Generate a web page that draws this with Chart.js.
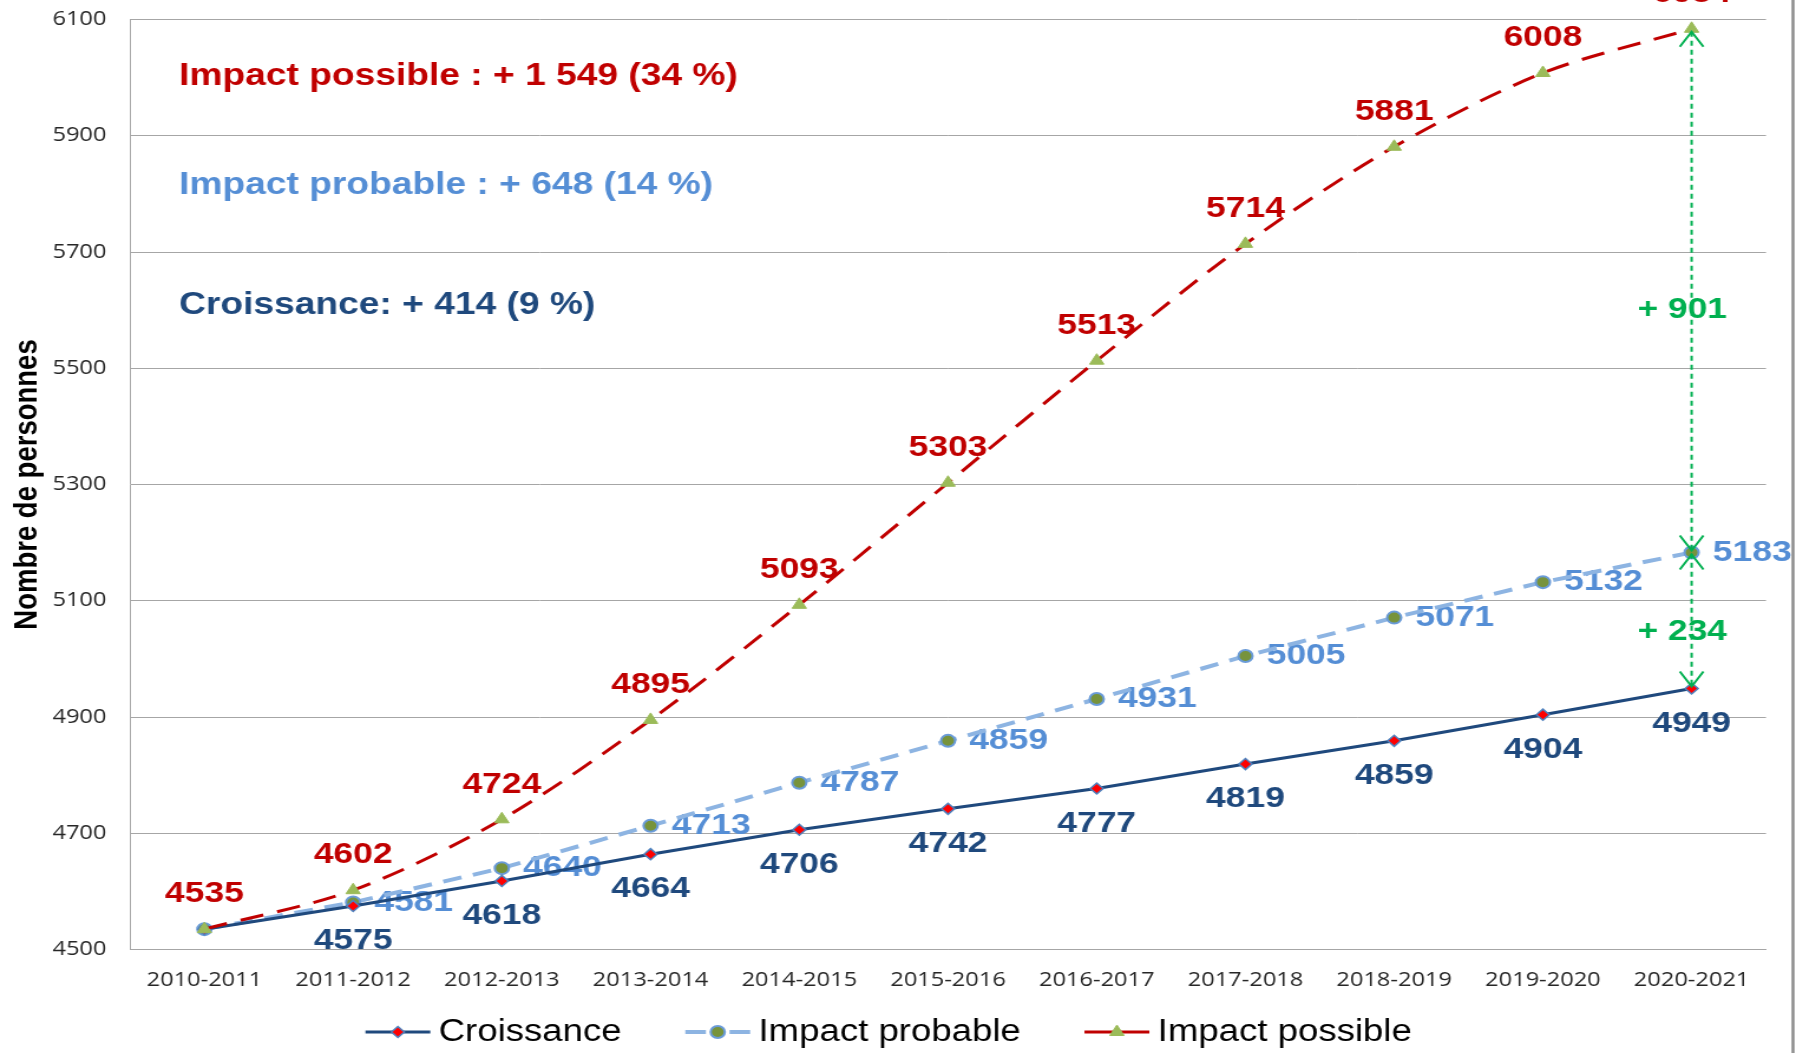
<!DOCTYPE html>
<html>
<head>
<meta charset="utf-8">
<script src="https://cdn.jsdelivr.net/npm/chart.js@4.4.1/dist/chart.umd.min.js"></script>
<style>
  html, body { margin: 0; padding: 0; background: #fff; overflow: hidden; }
  /* the original picture is a chart stretched sideways, so the whole canvas is stretched too */
  #wrap { position: absolute; left: 0; top: 0; width: 1522px; height: 1053px; transform: scaleX(1.18); transform-origin: 0 0; }
</style>
</head>
<body>
<div id="wrap"><canvas id="chart"></canvas></div>
<script>
// ===== DATA =====
const years = ['2010-2011', '2011-2012', '2012-2013', '2013-2014', '2014-2015', '2015-2016',
  '2016-2017', '2017-2018', '2018-2019', '2019-2020', '2020-2021'];
const croissance = [4535, 4575, 4618, 4664, 4706, 4742, 4777, 4819, 4859, 4904, 4949];
const impactProbable = [4535, 4581, 4640, 4713, 4787, 4859, 4931, 5005, 5071, 5132, 5183];
const impactPossible = [4535, 4602, 4724, 4895, 5093, 5303, 5513, 5714, 5881, 6008, 6084];
const yTicks = [4500, 4700, 4900, 5100, 5300, 5500, 5700, 5900, 6100];
const summaries = ['Impact possible : + 1 549 (34 %)', 'Impact probable : + 648 (14 %)', 'Croissance: + 414 (9 %)'];
const gapLabels = ['+ 901', '+ 234'];

const NAVY = '#1F497D';
const SKY = '#558ED5';
const SKY_LINE = '#8DB4E2';
const RED = '#C00000';
const GREEN = '#00B050';
const SANS = '"Liberation Sans", Arial, sans-serif';

// ===== PLUGINS =====
const valueLabels = {
  id: 'valueLabels',
  beforeDatasetsDraw(chart) {
    const ctx = chart.ctx;
    const area = chart.chartArea;
    ctx.save();
    ctx.textBaseline = 'middle';

    // summary lines, top left
    ctx.font = 'bold 31.5px ' + SANS;
    ctx.textAlign = 'left';
    [RED, SKY, NAVY].forEach((c, i) => {
      ctx.fillStyle = c;
      ctx.fillText(summaries[i], area.left + 41.5, area.top + [57, 166, 286][i]);
    });

    ctx.font = 'bold 30px ' + SANS;
    ctx.textAlign = 'center';
    ctx.fillStyle = NAVY;
    chart.getDatasetMeta(0).data.forEach((pt, i) => {
      if (i > 0) ctx.fillText(croissance[i], pt.x, pt.y + 35);
    });
    ctx.fillStyle = RED;
    chart.getDatasetMeta(2).data.forEach((pt, i) => {
      ctx.fillText(impactPossible[i], pt.x, pt.y - 35);
    });
    ctx.textAlign = 'left';
    ctx.fillStyle = SKY;
    chart.getDatasetMeta(1).data.forEach((pt, i) => {
      if (i > 0) ctx.fillText(impactProbable[i], pt.x + 18, pt.y);
    });
    ctx.restore();
  },
  afterDatasetsDraw(chart) {
    // green dotted arrows on the last year
    const ctx = chart.ctx;
    const last = years.length - 1;
    const x = chart.scales.x.getPixelForValue(last);
    const yTop = chart.scales.y.getPixelForValue(impactPossible[last]);
    const yMid = chart.scales.y.getPixelForValue(impactProbable[last]);
    const yBot = chart.scales.y.getPixelForValue(croissance[last]);
    ctx.save();
    ctx.strokeStyle = GREEN;
    ctx.lineWidth = 2;
    ctx.setLineDash([5, 4]);
    ctx.beginPath();
    ctx.moveTo(x, yTop + 3);
    ctx.lineTo(x, yBot - 2);
    ctx.stroke();
    ctx.setLineDash([]);
    const head = (yTip, dir) => {
      ctx.beginPath();
      ctx.moveTo(x - 10, yTip - dir * 15);
      ctx.lineTo(x, yTip);
      ctx.lineTo(x + 10, yTip - dir * 15);
      ctx.stroke();
    };
    head(yTop + 3, -1);
    head(yMid - 2, 1);
    head(yMid + 2, -1);
    head(yBot - 2, 1);

    ctx.font = 'bold 30px ' + SANS;
    ctx.fillStyle = GREEN;
    ctx.textAlign = 'center';
    ctx.textBaseline = 'middle';
    ctx.fillText(gapLabels[0], x - 8, (yTop + yMid) / 2 + 19);
    ctx.fillText(gapLabels[1], x - 8, (yMid + yBot) / 2 + 11);
    ctx.restore();
  },
  afterDraw(chart) {
    const ctx = chart.ctx;
    const legend = chart.legend;
    const fs = legend.options.labels.font.size;
    const box = legend.options.labels.boxWidth;
    ctx.save();
    // line + marker samples in the legend
    legend.legendHitBoxes.forEach((hb, i) => {
      const ds = chart.data.datasets[i];
      const x1 = hb.left + box + fs / 2 - 7;
      const x0 = x1 - 55;
      const xc = (x0 + x1) / 2;
      const y = hb.top + fs / 2;
      ctx.strokeStyle = ds.borderColor;
      ctx.lineWidth = ds.borderWidth;
      ctx.beginPath();
      if (i === 1) {
        ctx.moveTo(x0, y); ctx.lineTo(xc - 10, y);
        ctx.moveTo(xc + 10, y); ctx.lineTo(x1, y);
      } else {
        ctx.moveTo(x0, y); ctx.lineTo(x1, y);
      }
      ctx.stroke();
      ctx.fillStyle = ds.pointBackgroundColor;
      ctx.strokeStyle = ds.pointBorderColor;
      ctx.lineWidth = ds.pointBorderWidth;
      Chart.helpers.drawPoint(ctx, {
        pointStyle: ds.pointStyle, radius: ds.pointRadius, rotation: 0, borderWidth: ds.pointBorderWidth
      }, xc, y);
    });
    // frame edge on the right
    ctx.strokeStyle = '#8c8c8c';
    ctx.lineWidth = 2.5;
    ctx.beginPath();
    ctx.moveTo(chart.width - 2.5, 0);
    ctx.lineTo(chart.width - 2.5, chart.height);
    ctx.stroke();
    ctx.restore();
  }
};

// ===== CHART =====
new Chart(document.getElementById('chart'), {
  type: 'line',
  data: {
    labels: years,
    datasets: [
      {
        label: 'Croissance', data: croissance, order: 1,
        borderColor: NAVY, borderWidth: 3, tension: 0,
        pointStyle: 'rectRot', pointRadius: 5.5,
        pointBackgroundColor: '#FF0000', pointBorderColor: '#4F81BD', pointBorderWidth: 1.5
      },
      {
        label: 'Impact probable', data: impactProbable, order: 2,
        borderColor: SKY_LINE, borderWidth: 4, borderDash: [16, 10], tension: 0,
        pointStyle: 'circle', pointRadius: 6,
        pointBackgroundColor: '#77933C', pointBorderColor: '#6A9BD8', pointBorderWidth: 2
      },
      {
        label: 'Impact possible', data: impactPossible, order: 0,
        borderColor: RED, borderWidth: 3, borderDash: [20, 12], tension: 0.3,
        pointStyle: 'triangle', pointRadius: 7,
        pointBackgroundColor: '#9BBB59', pointBorderColor: '#9BBB59', pointBorderWidth: 1
      }
    ]
  },
  options: {
    responsive: true,
    maintainAspectRatio: false,
    animation: false,
    layout: { padding: { top: 19.5, right: 25.4, bottom: -4.5, left: -20 } },
    plugins: {
      tooltip: { enabled: false },
      legend: {
        position: 'bottom',
        labels: {
          boxWidth: 76,
          boxHeight: 4,
          padding: 24.5,
          color: '#000',
          font: { family: SANS, size: 31 },
          generateLabels: chart => chart.data.datasets.map((ds, i) => ({
            text: ds.label, fillStyle: 'rgba(0,0,0,0)', strokeStyle: 'rgba(0,0,0,0)',
            lineWidth: 0, hidden: false, datasetIndex: i
          }))
        }
      }
    },
    scales: {
      x: {
        offset: true,
        grid: { display: false, drawTicks: false },
        border: { color: '#A6A6A6' },
        ticks: {
          autoSkip: false, maxRotation: 0, padding: 18.5, color: '#262626',
          font: { family: '"Open Sans", sans-serif', size: 20 }
        },
        afterFit: scale => {
          scale.height = 42.5;
          scale.paddingLeft = 0;
          scale.paddingRight = 0;
        }
      },
      y: {
        min: yTicks[0],
        max: yTicks[yTicks.length - 1],
        grid: { color: '#A6A6A6', drawTicks: false },
        border: { color: '#A6A6A6' },
        ticks: {
          stepSize: yTicks[1] - yTicks[0], padding: 20, color: '#262626',
          font: { family: '"Open Sans", sans-serif', size: 20 },
          callback: v => String(v)
        },
        title: {
          display: true, text: 'Nombre de personnes', color: '#000',
          font: { family: SANS, size: 27.5, weight: 'bold' },
          padding: { top: 27.2, bottom: 0 }
        },
        afterFit: scale => {
          scale.width = 130.2;
          // tick padding should not push the plot down from the top
          scale.paddingTop = 0;
          scale.paddingBottom = 0;
        }
      }
    }
  },
  plugins: [valueLabels]
});
</script>
</body>
</html>
